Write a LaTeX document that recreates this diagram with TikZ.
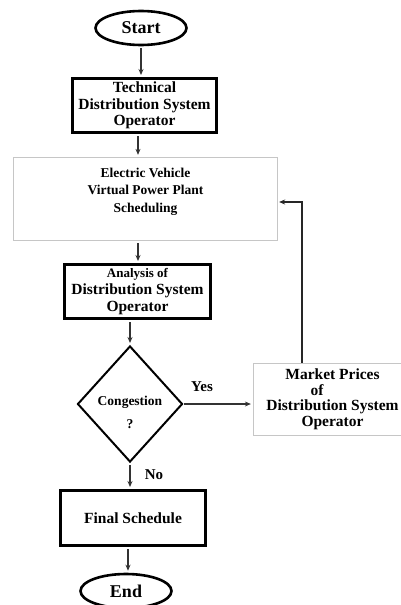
\documentclass[tikz,border=0pt]{standalone}
\usepackage{fontspec}
\setmainfont{Liberation Serif}
\usetikzlibrary{shapes}
\usetikzlibrary{positioning}
\usetikzlibrary{arrows.meta}
\tikzset{
    terminal/.style = {ellipse, line width=2.6pt, draw=black, align=center, minimum width=91pt, minimum height=34pt, inner sep=0pt, font=\fontsize{18}{20}\selectfont\bfseries},
    opbox/.style = {rectangle, line width=3pt, draw=black, align=center, fill=white, font=\fontsize{15.5}{16.5}\selectfont\bfseries},
    lightbox/.style = {rectangle, line width=1.3pt, draw=gray!45, align=center, fill=white, font=\fontsize{13.5}{17.5}\selectfont\bfseries},
    decision/.style = {diamond, line width=2pt, draw=black, align=center, inner sep=-8pt, font=\fontsize{13.5}{16}\selectfont\bfseries},
    answer/.style = {font=\fontsize{15}{16}\selectfont\bfseries},
    flow/.style = {draw=black!80, line width=1.8pt, -{Stealth[length=6pt,width=5pt]}, shorten <=2pt, shorten >=2pt},
    back/.style = {draw=black!85, line width=1.6pt, -{Stealth[length=6pt,width=5pt]}, shorten >=1pt}
}
\begin{document}
\begin{tikzpicture}[x=1pt,y=-1pt]
  \useasboundingbox[fill=white] (0,0) rectangle (400,605);
  \node[terminal] (start) at (141,28) {Start};
  \node[opbox, minimum width=144pt, minimum height=54pt] (tdso) at (144.5,105.5) {Technical\\Distribution System\\Operator};
  \node[lightbox, minimum width=264pt, minimum height=83pt, text depth=18pt] (evvpp) at (145.5,199) {Electric Vehicle\\Virtual Power Plant\\Scheduling};
  \node[opbox, minimum width=146pt, minimum height=54pt] (analysis) at (137.5,291.5) {{\fontsize{13}{13}\selectfont Analysis of}\\[1pt]Distribution System\\Operator};
  \node[decision, minimum width=105pt, minimum height=116pt, text height=50pt] (congestion) at (130,404) {Congestion\\[7pt]?};
  \node[lightbox, font=\fontsize{15.5}{15.5}\selectfont\bfseries, minimum width=158pt, minimum height=72pt] (market) at (332.5,399.5) {Market Prices\\\hbox to 44pt{of\hfil}\\Distribution System\\Operator};
  \node[opbox, minimum width=145pt, minimum height=55pt] (final) at (133,518) {Final Schedule};
  \node[terminal] (end) at (126,591) {End};
  \node[answer] (yes) at (202,387) {Yes};
  \node[answer] (no) at (154,475) {No};
  % main flow
  \draw[flow] (start.south) -- (start.south |- tdso.north);
  \draw[flow] ([xshift=-6.5pt]tdso.south) -- ([xshift=-7.5pt]evvpp.north);
  \draw[flow] ([xshift=-7.5pt]evvpp.south) -- ([xshift=0.5pt]analysis.north);
  \draw[flow] ([xshift=-7.5pt]analysis.south) -- (congestion.north);
  \draw[flow] (congestion.south) -- ([xshift=-3pt]final.north);
  \draw[flow] ([xshift=-5pt]final.south) -- ([xshift=2pt]end.north);
  % yes branch and feedback
  \draw[flow, shorten <=0pt] (congestion.east) -- (congestion.east -| market.west);
  \draw[back] ([xshift=-30.5pt]market.north) |- ([yshift=-3pt]evvpp.east);
\end{tikzpicture}
\end{document}
